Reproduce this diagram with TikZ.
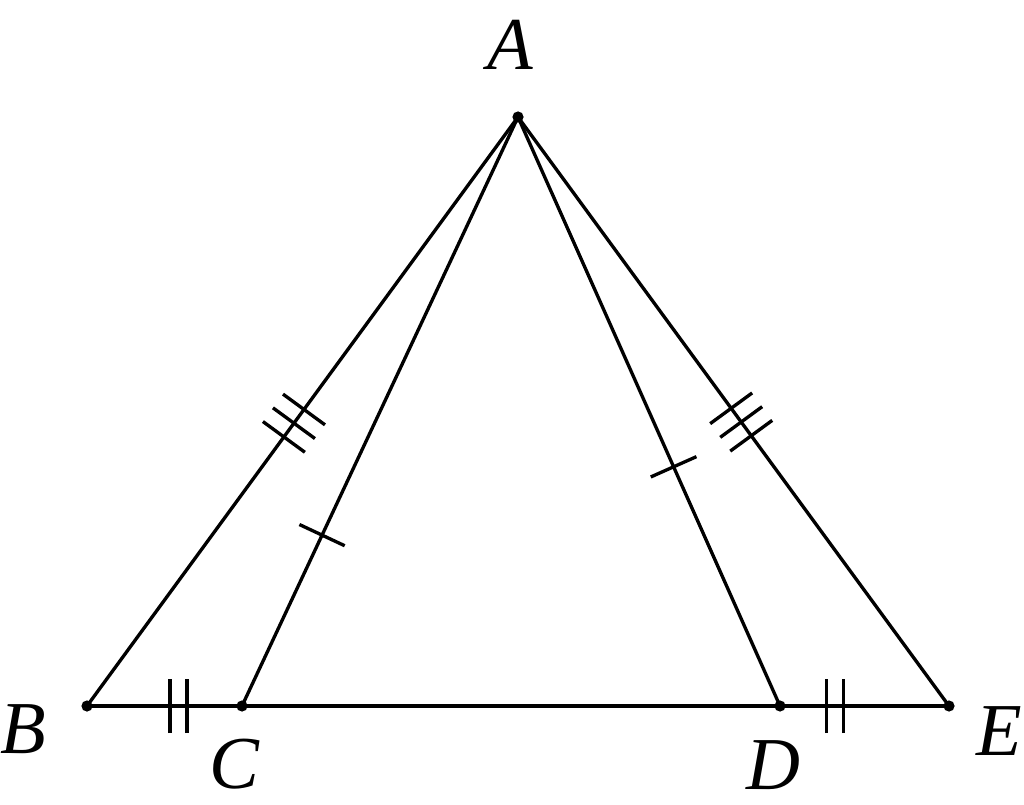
\documentclass[tikz,border=0pt]{standalone}
\usepackage{fontspec}
\setmainfont{Liberation Serif}
\usetikzlibrary{decorations.markings}

\tikzset{
  seg/.style={line width=2.5pt},
  tickone/.style={postaction={decorate,decoration={markings,
    mark=at position #1 with {\draw[seg] (0,-25) -- (0,25);}}}},
  ticktwo/.style={postaction={decorate,decoration={markings,
    mark=at position #1 with {\draw[seg] (-8.5,-27) -- (-8.5,27); \draw[seg] (8.5,-27) -- (8.5,27);}}}},
  tickthree/.style={postaction={decorate,decoration={markings,
    mark=at position #1 with {\draw[seg] (-17,-26) -- (-17,26); \draw[seg] (0,-26) -- (0,26); \draw[seg] (17,-26) -- (17,26);}}}},
  lbl/.style={inner sep=0pt,font=\fontsize{56}{56}\selectfont\itshape}
}

\begin{document}
\begin{tikzpicture}[x=0.75pt,y=0.75pt,yscale=-1,xscale=1]
\useasboundingbox (0,0) rectangle (1024,805);

%Points
\coordinate (A) at (518,117);
\coordinate (B) at (87,706);
\coordinate (C) at (242,706);
\coordinate (D) at (780,706);
\coordinate (E) at (949,706);

%Straight Lines
\draw [seg, tickthree=0.52] (A) -- (B) ;
\draw [seg, tickone=0.71] (A) -- (C) ;
\draw [seg, tickone=0.594] (A) -- (D) ;
\draw [seg, tickthree=0.518] (A) -- (E) ;
\draw [seg] (B) -- (E) ;
\draw [seg, ticktwo=0.59] (B) -- (C) ;
\draw [seg, ticktwo=0.325] (D) -- (E) ;

%Dots
\foreach \p in {A,B,C,D,E} \fill (\p) circle [radius=4.2pt] ;

% Text Node
\node [lbl] (labA) at (510,45) {A};
% Text Node
\node [lbl] (labB) at (23,729) {B};
% Text Node
\node [lbl] (labC) at (234,764) {C};
% Text Node
\node [lbl] (labD) at (773,765) {D};
% Text Node
\node [lbl] (labE) at (999,731) {E};

\end{tikzpicture}
\end{document}
